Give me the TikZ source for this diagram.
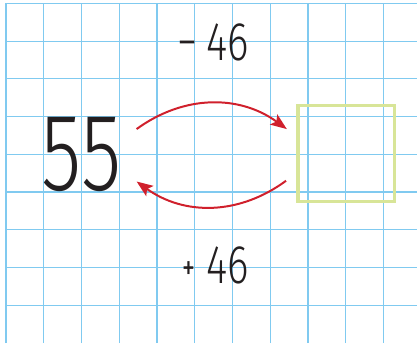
\documentclass[tikz,border=0pt]{standalone}
\usepackage{fontspec}
\usetikzlibrary{arrows.meta}
\newfontfamily\numfont{Fira Sans}[UprightFont=* Light,FakeStretch=0.75]
\newfontfamily\signfont{Fira Sans}[FakeStretch=0.75]
\definecolor{gridblue}{RGB}{128,202,240}
\definecolor{arrowred}{RGB}{208,32,44}
\definecolor{boxgreen}{RGB}{216,229,152}
\definecolor{inkblack}{RGB}{35,31,32}

\begin{document}
\begin{tikzpicture}[
 bignum/.style={
  inner sep=0pt,
  text=inkblack,
  font=\numfont\fontsize{83}{83}\selectfont
 },
 opnum/.style={
  inner sep=0pt,
  anchor=east,
  text=inkblack,
  font=\numfont\fontsize{41}{41}\selectfont
 },
 answer/.style={
  draw=boxgreen,
  line width=2.4pt,
  minimum width=2.55cm,
  minimum height=2.53cm,
  inner sep=0pt
 },
 gridline/.style={gridblue,line width=0.9pt},
 hop/.style={-{Stealth[length=4.3mm,width=3.3mm,inset=0.9mm]},arrowred,line width=1.5pt}
]
 \useasboundingbox (-0.16,0) rectangle (10.89,9.09);
 \clip (-0.16,0) rectangle (10.89,9.09);
 \fill[white] (-0.16,0) rectangle (10.89,9.09);
 \foreach \x in {0,...,10}
  \draw[gridline] (\x,0) -- (\x,9);
 \foreach \y in {1,...,9}
  \draw[gridline] (0,\y) -- (10.89,\y);

 \node[bignum] (start) at (2,5) {55};
 \node[answer] (result) at (9.01,5.02) {};
 \node[opnum] (minus) at (6.44,7.96) {−\,46};
 \node[opnum] (plus) at (6.44,2.06)
  {\raisebox{3pt}{\signfont\fontsize{26}{26}\selectfont+}\hspace{0.3cm}46};

 \coordinate (outL) at (3.46,5.67);
 \coordinate (outR) at (7.44,5.67);
 \coordinate (backR) at (7.42,4.30);
 \coordinate (backL) at (3.46,4.28);

 \draw[hop] (outL) to[bend left=36] (outR);
 \draw[hop] (backR) to[bend left=36] (backL);
\end{tikzpicture}
\end{document}
